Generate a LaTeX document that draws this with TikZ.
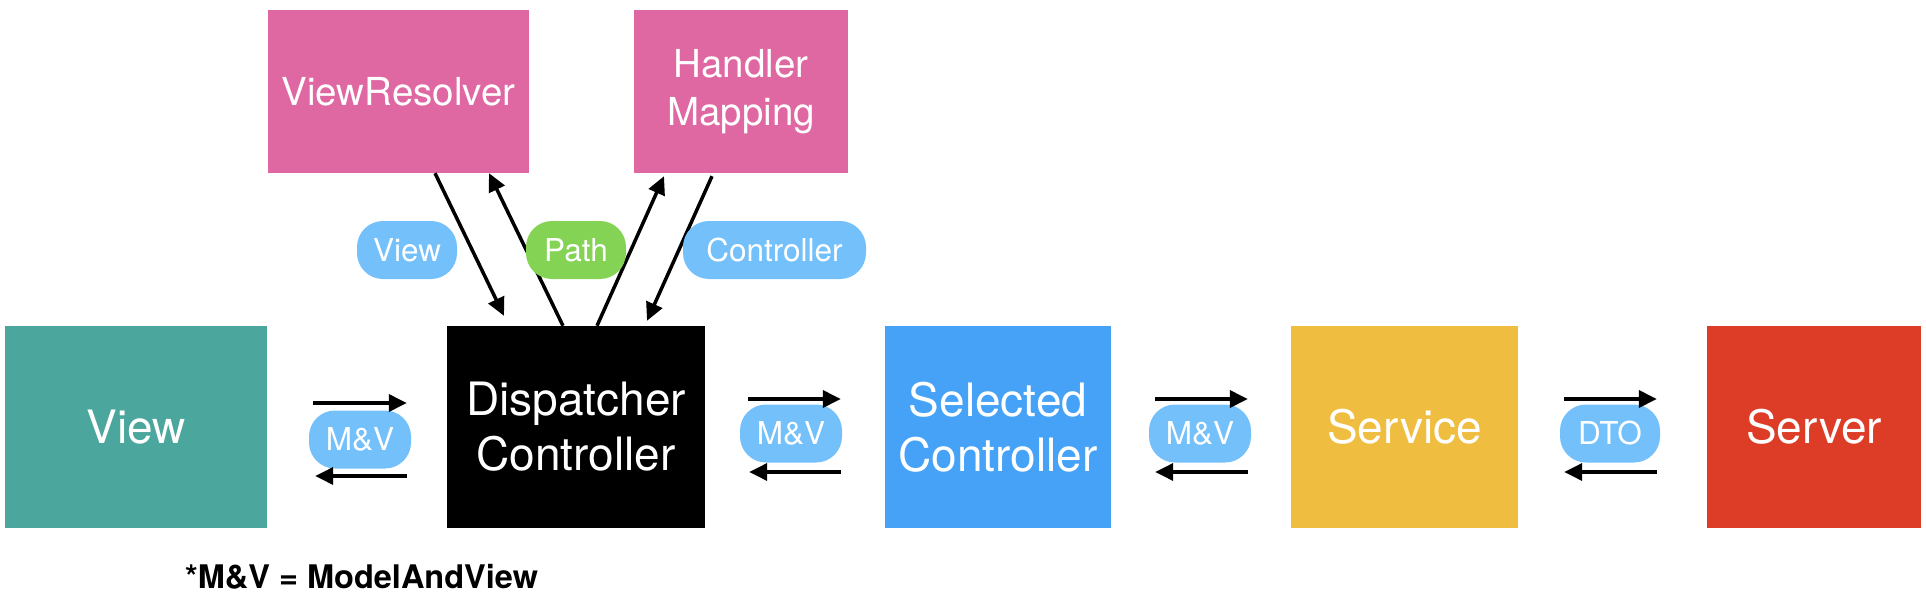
\documentclass[tikz,border=0pt]{standalone}
\usepackage{fontspec}
\setmainfont{TeX Gyre Heros}
\usetikzlibrary{arrows.meta,calc}
\definecolor{cview}{HTML}{4BA79D}
\definecolor{csel}{HTML}{46A2F7}
\definecolor{cserv}{HTML}{EFBD40}
\definecolor{cserver}{HTML}{DD3C26}
\definecolor{cpink}{HTML}{DF68A3}
\definecolor{cpill}{HTML}{73C0FA}
\definecolor{cgreen}{HTML}{84D355}
\tikzset{
  bigbox/.style={inner sep=0pt, minimum height=202pt, text=white, align=center,
    font=\fontsize{46}{55}\selectfont},
  topbox/.style={inner sep=0pt, minimum height=163pt, fill=cpink, text=white, align=center,
    font=\fontsize{38.5}{48}\selectfont},
  pill/.style={inner sep=0pt, minimum height=58pt, rounded corners=26pt, fill=cpill,
    text=white, font=\fontsize{31.5}{36}\selectfont},
  arr/.style={line width=3.5pt, -{Triangle[length=18pt,width=17pt]}},
}
\begin{document}
\begin{tikzpicture}[x=1pt,y=-1pt]
\useasboundingbox (0,0) rectangle (1926,594);
% main boxes
\node[bigbox, fill=cview, minimum width=262pt] (view) at (136,427) {View};
\node[bigbox, fill=black, minimum width=258pt] (disp) at (576,427) {Dispatcher\\Controller};
\node[bigbox, fill=csel, minimum width=226pt] (sel) at (998,427) {Selected\\Controller};
\node[bigbox, fill=cserv, minimum width=227pt] (serv) at (1404.5,427) {Service};
\node[bigbox, fill=cserver, minimum width=214pt] (server) at (1814,427) {Server};
% top boxes
\node[topbox, minimum width=261pt] (vr) at (398.5,91.5) {ViewResolver};
\node[topbox, minimum width=214pt] (hm) at (741,91.5) {Handler\\Mapping};
% diagonal arrows
\draw[arr] ($(vr.south)+(36.5,0)$) -- ($(disp.north)+(-72,-10)$);
\draw[arr] ($(disp.north)+(-13,0)$) -- ($(vr.south)+(90.5,0)$);
\draw[arr] ($(disp.north)+(21,0)$) -- ($(hm.south)+(-77,3)$);
\draw[arr] ($(hm.south)+(-29,3)$) -- ($(disp.north)+(71,-5)$);
% top pills
\node[pill, minimum width=100pt] (pview) at (407,250) {View};
\node[pill, fill=cgreen, minimum width=100pt] (ppath) at (576,250) {Path};
\node[pill, minimum width=183pt] (pctrl) at (774.5,250) {Controller};
% gap pills
\node[pill, minimum width=102pt] (mv1) at (360,439.5) {M\&V};
\node[pill, minimum width=102pt] (mv2) at (791,433.5) {M\&V};
\node[pill, minimum width=102pt] (mv3) at (1200,433.5) {M\&V};
\node[pill, minimum width=100pt] (dto) at (1610,433.5) {DTO};
% horizontal arrows
\draw[arr, shorten <=46pt, shorten >=40pt] ($(view.east)+(0,-24)$) -- ($(disp.west)+(0,-24)$);
\draw[arr, shorten <=40pt, shorten >=48pt] ($(disp.west)+(0,49)$) -- ($(view.east)+(0,49)$);
\draw[arr, shorten <=43pt, shorten >=44pt] ($(disp.east)+(0,-28)$) -- ($(sel.west)+(0,-28)$);
\draw[arr, shorten <=44pt, shorten >=44pt] ($(sel.west)+(0,45)$) -- ($(disp.east)+(0,45)$);
\draw[arr, shorten <=44pt, shorten >=43pt] ($(sel.east)+(0,-28)$) -- ($(serv.west)+(0,-28)$);
\draw[arr, shorten <=43pt, shorten >=44pt] ($(serv.west)+(0,45)$) -- ($(sel.east)+(0,45)$);
\draw[arr, shorten <=46pt, shorten >=50pt] ($(serv.east)+(0,-28)$) -- ($(server.west)+(0,-28)$);
\draw[arr, shorten <=50pt, shorten >=46pt] ($(server.west)+(0,45)$) -- ($(serv.east)+(0,45)$);
% footnote
\node[anchor=base west, inner sep=0pt, font=\bfseries\fontsize{32.5}{38}\selectfont] (note) at (185,588) {*M\&V = ModelAndView};
\end{tikzpicture}
\end{document}
